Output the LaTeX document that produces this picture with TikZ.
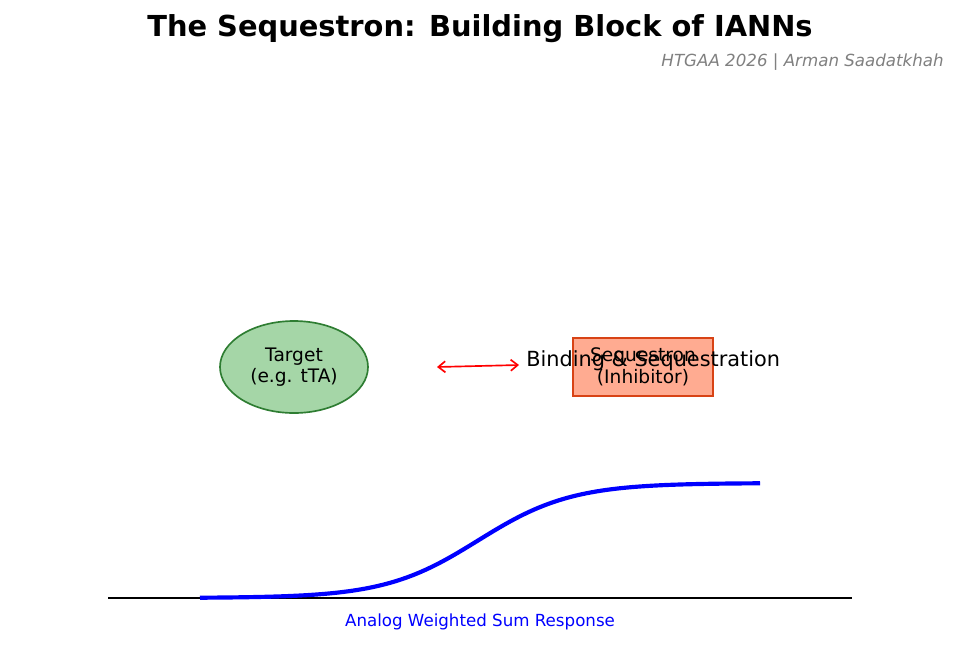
\documentclass[tikz,border=0pt]{standalone}
\usepackage{fontspec}
\setmainfont{DejaVu Sans}
\usetikzlibrary{arrows.meta,shapes.geometric}
\definecolor{tfill}{HTML}{A5D6A7}
\definecolor{tedge}{HTML}{2E7D32}
\definecolor{sfill}{HTML}{FFAB91}
\definecolor{sedge}{HTML}{D84315}
\definecolor{subgray}{HTML}{808080}
\tikzset{
  target/.style={ellipse,draw=tedge,fill=tfill,line width=1.2pt,minimum width=148*0.72pt,minimum height=92*0.72pt,inner sep=0pt,align=center,font=\fontsize{13.4}{15.5}\selectfont},
  seqbox/.style={rectangle,draw=sedge,fill=sfill,line width=1.2pt,minimum width=140*0.72pt,minimum height=58*0.72pt,inner sep=0pt,align=center,font=\fontsize{13.4}{15.5}\selectfont},
  bindarrow/.style={red,line width=1.2pt,{Straight Barb[length=5pt,width=8pt]}-{Straight Barb[length=5pt,width=8pt]}}
}
\begin{document}
\begin{tikzpicture}[x=0.72pt,y=-0.72pt]
\useasboundingbox (0,0) rectangle (959,671);
\node[font=\fontsize{20.8}{23}\selectfont\bfseries] (title) at (480,29) {The Sequestron: Building Block of IANNs};
\node[font=\fontsize{12}{14}\selectfont\itshape,text=subgray,anchor=east,inner sep=0pt] (sub) at (944,62) {HTGAA 2026 | Arman Saadatkhah};
\node[target] (tgt) at (294,367) {Target\\(e.g. tTA)};
\node[seqbox] (seq) at (643,367) {Sequestron\\(Inhibitor)};
\coordinate (a1) at (437,367);
\coordinate (a2) at (519,365);
\draw[bindarrow] (a1) -- (a2);
\node[font=\fontsize{15}{17}\selectfont,anchor=west,inner sep=0pt] (bind) at (526,361) {Binding \& Sequestration};
\coordinate (ax1) at (108,598);
\coordinate (ax2) at (852,598);
\draw[black,line width=1.5pt] (ax1) -- (ax2);
\draw[blue,line width=3pt,domain=200:760,samples=120,smooth] plot (\x,{598-115/(1+exp(-(\x-478)/46.7))});
\node[font=\fontsize{12}{14}\selectfont,text=blue] (lab) at (480,622) {Analog Weighted Sum Response};
\end{tikzpicture}
\end{document}
